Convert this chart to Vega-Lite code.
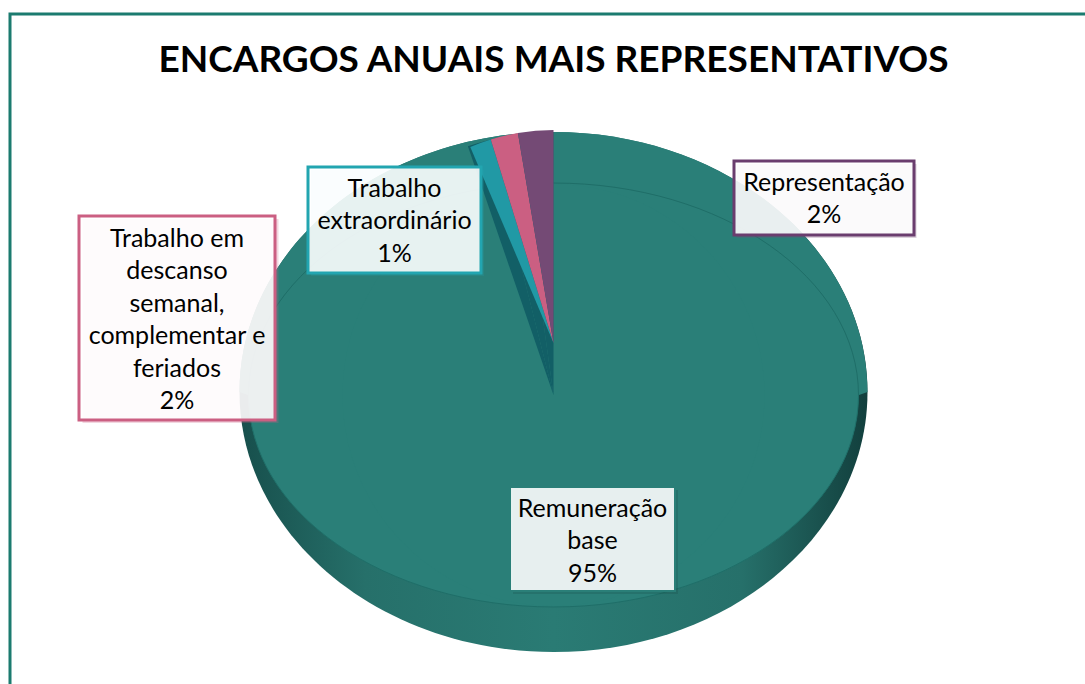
{
"$schema":"https://vega.github.io/schema/vega-lite/v6.json",
"width":1087,"height":762,
"autosize":"none",
"padding":{"left":10,"top":14,"right":-12,"bottom":-92},
"background":"white",
"view":{"stroke":"#1B7B6F","strokeWidth":3,"fill":"white"},
"title":{"text":"ENCARGOS ANUAIS MAIS REPRESENTATIVOS","font":"Lato","fontSize":37,"fontWeight":"bold","color":"#000000","anchor":"middle","offset":0,"dy":95,"baseline":"alphabetic"},
"data":{"values":[
{"categoria":"Remuneração base","valor":95.1,"ordem":1,"rotulo":"Remuneração\nbase\n95%"},
{"categoria":"Trabalho extraordinário","valor":1.25,"ordem":2,"rotulo":"Trabalho\nextraordinário\n1%"},
{"categoria":"Trabalho em descanso semanal, complementar e feriados","valor":1.6,"ordem":3,"rotulo":"Trabalho em\ndescanso\nsemanal,\ncomplementar e\nferiados\n2%"},
{"categoria":"Representação","valor":2.05,"ordem":4,"rotulo":"Representação\n2%"}
]},
"resolve":{"scale":{"theta":"independent"}},
"layer":[
{"transform":[{"filter":"datum.ordem==1"}],"mark":{"type":"point","filled":true,"opacity":1,"yOffset":-3,"size":394384,"shape":"M-1,0 A1,.828 0 1 1 1,0 A1,.828 0 1 1 -1,0 Z","fill":{"gradient":"linear","x1":0,"x2":1,"y1":0,"y2":0,"stops":[{"offset":0,"color":"#174F4C"},{"offset":0.2,"color":"#26706A"},{"offset":0.5,"color":"#2A7B74"},{"offset":0.8,"color":"#26706A"},{"offset":1,"color":"#123F3D"}]}},"encoding":{}},
{"transform":[{"filter":"datum.ordem==1"}],"mark":{"type":"point","filled":true,"opacity":1,"yOffset":-3,"size":394384,"shape":"M-1,0 A1,.828 0 0 1 1,0 L.971,.01 A.971,.675 0 0 1 -.971,.01 Z","fill":"#2A7F78"},"encoding":{}},
{"transform":[{"filter":"datum.ordem==1"}],"mark":{"type":"point","filled":true,"opacity":1,"size":372100,"shape":"M-1,0 A1,.695 0 1 1 1,0 A1,.695 0 1 1 -1,0 Z","fill":"#2A7F78","stroke":"#1F6E68","strokeWidth":1},"encoding":{}},
{"transform":[{"filter":"datum.ordem==1"}],"mark":{"type":"arc","radius":211,"fill":"#2A7F78"},"encoding":{"theta":{"field":"valor","type":"quantitative","stack":true,"scale":{"domain":[0,100],"range":[0,6.2832]}}}},
{"transform":[{"filter":"datum.ordem>1"}],"mark":{"type":"arc","radius":263,"fill":"#125F66"},"encoding":{"theta":{"field":"valor","type":"quantitative","stack":true,"scale":{"domain":[0,4.9],"range":[5.9516,6.2832]}},"order":{"field":"ordem"}}},
{"transform":[{"filter":"datum.ordem>1"}],"mark":{"type":"arc","radius":213,"yOffset":-52},"encoding":{"theta":{"field":"valor","type":"quantitative","stack":true,"scale":{"domain":[0,4.9],"range":[5.8818,6.2832]}},"order":{"field":"ordem"},"color":{"field":"categoria","type":"nominal","legend":null,"scale":{"domain":["Trabalho extraordinário","Trabalho em descanso semanal, complementar e feriados","Representação"],"range":["#2199A5","#CB5F82","#744A75"]}}}},

{"transform":[{"filter":"datum.ordem==1"}],"mark":{"type":"point","filled":true,"opacity":0.2,"fill":"#123F3D","size":27225,"shape":"M-1,-.63 L1,-.63 L1,.63 L-1,.63 Z","xOffset":42,"yOffset":147},"encoding":{}},
{"transform":[{"filter":"datum.ordem==1"}],"mark":{"type":"point","filled":true,"opacity":1,"fill":"white","fillOpacity":0.89,"stroke":"#2A7F78","strokeWidth":2,"size":27225,"shape":"M-1,-.63 L1,-.63 L1,.63 L-1,.63 Z","xOffset":39,"yOffset":144},"encoding":{}},
{"transform":[{"filter":"datum.ordem==1"}],"mark":{"type":"text","xOffset":39,"yOffset":114,"font":"Lato","fontSize":25,"lineHeight":32.4,"lineBreak":"\n","color":"#000000","align":"center","baseline":"middle"},"encoding":{"text":{"field":"rotulo"}}},

{"transform":[{"filter":"datum.ordem==4"}],"mark":{"type":"point","filled":true,"opacity":0.25,"fill":"#744A75","size":32400,"shape":"M-1,-.411 L1,-.411 L1,.411 L-1,.411 Z","xOffset":273,"yOffset":-194},"encoding":{}},
{"transform":[{"filter":"datum.ordem==4"}],"mark":{"type":"point","filled":true,"opacity":1,"fill":"white","fillOpacity":0.89,"stroke":"#6A3D6E","strokeWidth":3,"size":32400,"shape":"M-1,-.411 L1,-.411 L1,.411 L-1,.411 Z","xOffset":270.5,"yOffset":-197},"encoding":{}},
{"transform":[{"filter":"datum.ordem==4"}],"mark":{"type":"text","xOffset":270.5,"yOffset":-212,"font":"Lato","fontSize":25,"lineHeight":32.4,"lineBreak":"\n","color":"#000000","align":"center","baseline":"middle"},"encoding":{"text":{"field":"rotulo"}}},

{"transform":[{"filter":"datum.ordem==2"}],"mark":{"type":"point","filled":true,"opacity":0.2,"fill":"#22A5B0","size":29929,"shape":"M-1,-.6127 L1,-.6127 L1,.6127 L-1,.6127 Z","xOffset":-156,"yOffset":-172},"encoding":{}},
{"transform":[{"filter":"datum.ordem==2"}],"mark":{"type":"point","filled":true,"opacity":1,"fill":"white","fillOpacity":0.89,"stroke":"#22A5B0","strokeWidth":3,"size":29929,"shape":"M-1,-.6127 L1,-.6127 L1,.6127 L-1,.6127 Z","xOffset":-159,"yOffset":-175},"encoding":{}},
{"transform":[{"filter":"datum.ordem==2"}],"mark":{"type":"text","xOffset":-159,"yOffset":-206,"font":"Lato","fontSize":25,"lineHeight":32.4,"lineBreak":"\n","color":"#000000","align":"center","baseline":"middle"},"encoding":{"text":{"field":"rotulo"}}},

{"transform":[{"filter":"datum.ordem==3"}],"mark":{"type":"point","filled":true,"opacity":0.25,"fill":"#CB5F82","size":38416,"shape":"M-1,-1.0408 L1,-1.0408 L1,1.0408 L-1,1.0408 Z","xOffset":-373,"yOffset":-74},"encoding":{}},
{"transform":[{"filter":"datum.ordem==3"}],"mark":{"type":"point","filled":true,"opacity":1,"fill":"white","fillOpacity":0.89,"stroke":"#CB5F82","strokeWidth":3,"size":38416,"shape":"M-1,-1.0408 L1,-1.0408 L1,1.0408 L-1,1.0408 Z","xOffset":-376.5,"yOffset":-77},"encoding":{}},
{"transform":[{"filter":"datum.ordem==3"}],"mark":{"type":"text","xOffset":-376.5,"yOffset":-156,"font":"Lato","fontSize":25,"lineHeight":32.4,"lineBreak":"\n","color":"#000000","align":"center","baseline":"middle"},"encoding":{"text":{"field":"rotulo"}}}
]
}
